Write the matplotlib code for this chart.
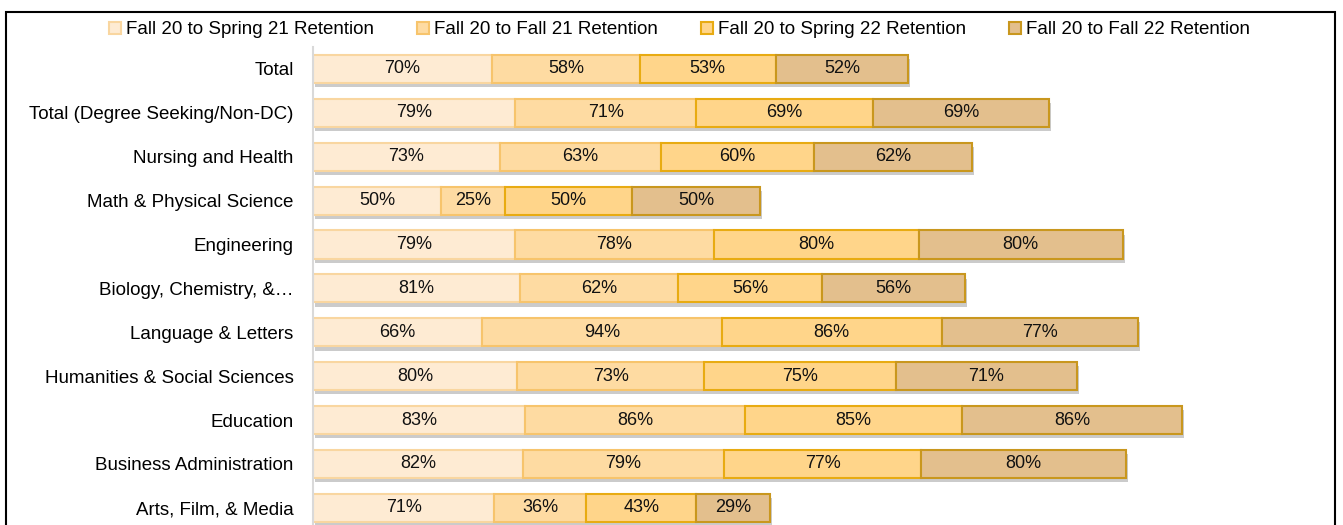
import matplotlib.pyplot as plt
import matplotlib.patheffects as pe
from matplotlib.patches import Rectangle, Patch

categories = ["Total", "Total (Degree Seeking/Non-DC)", "Nursing and Health",
              "Math & Physical Science", "Engineering", "Biology, Chemistry, &\u2026",
              "Language & Letters", "Humanities & Social Sciences", "Education",
              "Business Administration", "Arts, Film, & Media"]
series_names = ["Fall 20 to Spring 21 Retention", "Fall 20 to Fall 21 Retention",
                "Fall 20 to Spring 22 Retention", "Fall 20 to Fall 22 Retention"]
spring21 = [70, 79, 73, 50, 79, 81, 66, 80, 83, 82, 71]
fall21 = [58, 71, 63, 25, 78, 62, 94, 73, 86, 79, 36]
spring22 = [53, 69, 60, 50, 80, 56, 86, 75, 85, 77, 43]
fall22 = [52, 69, 62, 50, 80, 56, 77, 71, 86, 80, 29]

fills = ["#FEEBD3", "#FEDBA2", "#FFD58A", "#E3BF8D"]
edges = ["#F9D6A0", "#F7C46C", "#E8AB12", "#C9971E"]

plt.rcParams['font.family'] = ['Liberation Sans', 'DejaVu Sans']

fig = plt.figure(figsize=(13.43, 5.25), dpi=100)
ax = fig.add_axes([313 / 1343, 0, 1017 / 1343, 478 / 525])

y = list(range(len(categories)))
left = [0] * len(categories)
shadow = [pe.SimplePatchShadow(offset=(1.5, -3), shadow_rgbFace="#999999", alpha=0.5), pe.Normal()]
for vals, name, fc, ec in zip([spring21, fall21, spring22, fall22], series_names, fills, edges):
    bars = ax.barh(y, vals, left=left, height=0.64, color=fc, edgecolor=ec,
                   linewidth=1.5, path_effects=shadow)
    for b, v in zip(bars, vals):
        ax.text(b.get_x() + b.get_width() / 2, b.get_y() + b.get_height() / 2,
                f"{v}%", ha="center", va="center", fontsize=13, color="#111111")
    left = [l + v for l, v in zip(left, vals)]

ax.set_xlim(0, 398)
ax.set_ylim(10.39, -0.5)
ax.set_yticks(y)
ax.set_yticklabels(categories, fontsize=13.5)
ax.tick_params(axis="y", length=0, pad=14)
ax.set_xticks([])
for s in ["top", "right", "bottom"]:
    ax.spines[s].set_visible(False)
ax.spines["left"].set_color("#D9D9D9")
ax.spines["left"].set_linewidth(1.5)

handles = [Patch(facecolor=fc, edgecolor=ec, linewidth=1.5) for fc, ec in zip(fills, edges)]
fig.legend(handles, series_names, loc="center", bbox_to_anchor=(0.506, 0.943),
           ncol=4, frameon=False, fontsize=13.5, handlelength=0.65, handleheight=0.65,
           handletextpad=0.25, columnspacing=2.3)

fig.patches.append(Rectangle((6 / 1343, -0.01), 1329 / 1343, 1 - 12 / 525 + 0.01,
                             transform=fig.transFigure, fill=False, edgecolor="black",
                             linewidth=1.5))

fig.savefig("out.png", dpi=100)
